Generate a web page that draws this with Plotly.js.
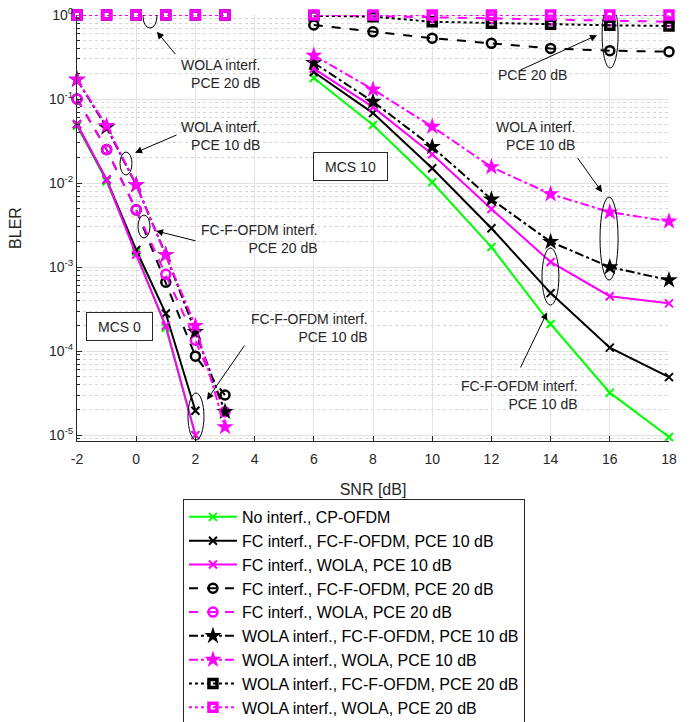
<!DOCTYPE html>
<html>
<head>
<meta charset="utf-8">
<script src="https://cdn.plot.ly/plotly-3.0.1.min.js"></script>
<style>html,body{margin:0;padding:0;background:#fff;}#chart{width:697px;height:722px;}</style>
</head>
<body>
<div id="chart"></div>
<script>
// ---- data ----
const snrMcs0 = [-2, -1, 0, 1, 2, 3];
const snrMcs10 = [6, 8, 10, 12, 14, 16, 18];

const seriesNames = [
  "No interf., CP-OFDM",
  "FC interf., FC-F-OFDM, PCE 10 dB",
  "FC interf., WOLA, PCE 10 dB",
  "FC interf., FC-F-OFDM, PCE 20 dB",
  "FC interf., WOLA, PCE 20 dB",
  "WOLA interf., FC-F-OFDM, PCE 10 dB",
  "WOLA interf., WOLA, PCE 10 dB",
  "WOLA interf., FC-F-OFDM, PCE 20 dB",
  "WOLA interf., WOLA, PCE 20 dB"
];

// MCS 0 (SNR -2 ... 3)
const noInterfMcs0   = [0.048, 0.0105, 0.0015, 0.00019, 0.00001];
const fcFofdm10Mcs0  = [0.05, 0.011, 0.0016, 0.00028, 0.0000195];
const fcWola10Mcs0   = [0.05, 0.011, 0.0014, 0.0002, 0.00001];
const fcFofdm20Mcs0  = [0.1, 0.025, 0.0048, 0.00066, 0.000087, 0.00003];
const fcWola20Mcs0   = [0.1, 0.025, 0.0048, 0.00082, 0.000135, 0.000019];
const woFofdm10Mcs0  = [0.17, 0.046, 0.0095, 0.0014, 0.00017, 0.000019];
const woWola10Mcs0   = [0.17, 0.048, 0.0095, 0.0014, 0.0002, 0.0000125];
const woFofdm20Mcs0  = [1, 1, 1, 1, 1, 1];
const woWola20Mcs0   = [1, 1, 1, 1, 1, 1];

// MCS 10 (SNR 6 ... 18)
const noInterfMcs10  = [0.178, 0.049, 0.0102, 0.00173, 0.00021, 0.000032, 0.0000095];
const fcFofdm10Mcs10 = [0.21, 0.068, 0.015, 0.0029, 0.00049, 0.00011, 0.000049];
const fcWola10Mcs10  = [0.23, 0.08, 0.022, 0.0049, 0.00115, 0.00045, 0.00037];
const fcFofdm20Mcs10 = [0.76, 0.63, 0.53, 0.46, 0.40, 0.376, 0.366];
const fcWola20Mcs10  = [1.0, 0.97, 0.93, 0.9, 0.87, 0.85, 0.83];
const woFofdm10Mcs10 = [0.27, 0.093, 0.027, 0.0064, 0.002, 0.001, 0.0007];
const woWola10Mcs10  = [0.33, 0.13, 0.047, 0.0155, 0.0074, 0.0045, 0.0035];
const woFofdm20Mcs10 = [0.98, 0.955, 0.83, 0.80, 0.775, 0.754, 0.74];
const woWola20Mcs10  = [1, 1, 1, 1, 1, 1, 1];

const xTicks = [-2, 0, 2, 4, 6, 8, 10, 12, 14, 16, 18];
const xTickText = ["-2", "0", "2", "4", "6", "8", "10", "12", "14", "16", "18"];
const yTickVals = [1e-5, 1e-4, 1e-3, 1e-2, 1e-1, 1];
const yTickText = ["10<sup>-5</sup>", "10<sup>-4</sup>", "10<sup>-3</sup>", "10<sup>-2</sup>", "10<sup>-1</sup>", "10<sup>0</sup>"];

// ---- styling ----
const GREEN = "#00ff00", MAG = "#ff00ff", BLK = "#000000";
const styles = [
  {color: GREEN, dash: "solid",   symbol: "x-thin-open", size: 8,  lw: 2},
  {color: BLK,   dash: "solid",   symbol: "x-thin-open", size: 8,  lw: 2},
  {color: MAG,   dash: "solid",   symbol: "x-thin-open", size: 8,  lw: 2},
  {color: BLK,   dash: "dash",    symbol: "circle-open", size: 9,  lw: 2.5},
  {color: MAG,   dash: "dash",    symbol: "circle-open", size: 9,  lw: 2.5},
  {color: BLK,   dash: "dashdot", symbol: "star",        size: 13, lw: 0},
  {color: MAG,   dash: "dashdot", symbol: "star",        size: 13, lw: 0},
  {color: BLK,   dash: "dot",     symbol: "square-open", size: 8,  lw: 3.5},
  {color: MAG,   dash: "dot",     symbol: "square-open", size: 8,  lw: 3.5}
];
const mcs0 = [noInterfMcs0, fcFofdm10Mcs0, fcWola10Mcs0, fcFofdm20Mcs0, fcWola20Mcs0, woFofdm10Mcs0, woWola10Mcs0, woFofdm20Mcs0, woWola20Mcs0];
const mcs10 = [noInterfMcs10, fcFofdm10Mcs10, fcWola10Mcs10, fcFofdm20Mcs10, fcWola20Mcs10, woFofdm10Mcs10, woWola10Mcs10, woFofdm20Mcs10, woWola20Mcs10];

const traces = [];
seriesNames.forEach((name, i) => {
  const s = styles[i];
  const x0 = snrMcs0.slice(0, mcs0[i].length);
  traces.push({
    type: "scatter", mode: "lines+markers", name: name,
    x: x0.concat([null], snrMcs10),
    y: mcs0[i].concat([null], mcs10[i]),
    connectgaps: false, cliponaxis: false,
    line: {color: s.color, width: 2, dash: s.dash},
    marker: {symbol: s.symbol, size: s.size, color: s.color,
             line: {color: s.color, width: s.lw}}
  });
});

const F = "Liberation Sans, Arial, sans-serif";
const TXT = "#262626";
const ann = [];
function label(text, x, ly) {
  ann.push({text: text, x: x, y: ly, xref: "x", yref: "y", showarrow: false,
    xanchor: "right", yanchor: "middle", align: "right",
    font: {family: F, size: 14, color: TXT}});
}
function arrow(x, ly, ax, ay) {
  ann.push({text: " ", x: x, y: ly, xref: "x", yref: "y", showarrow: true,
    ax: ax, ay: ay, arrowhead: 2, arrowsize: 1.4, arrowwidth: 1, arrowcolor: "#000",
    borderpad: 0, font: {size: 1}});
}
function box(text, x, ly, w, h) {
  ann.push({text: text, x: x, y: ly, xref: "x", yref: "y", showarrow: false,
    xanchor: "center", yanchor: "middle", width: w, height: h,
    bordercolor: TXT, borderwidth: 1, borderpad: 1, bgcolor: "#fff",
    font: {family: F, size: 14, color: TXT}});
}
label("WOLA interf.<br>PCE 20 dB", 4.25, -0.70);
label("WOLA interf.<br>PCE 10 dB", 4.25, -1.44);
label("FC-F-OFDM interf.<br>PCE 20 dB", 6.21, -2.67);
label("FC-F-OFDM interf.<br>PCE 10 dB", 7.90, -3.72);
label("PCE 20 dB", 14.62, -0.71);
label("WOLA interf.<br>PCE 10 dB", 14.89, -1.44);
label("FC-F-OFDM interf.<br>PCE 10 dB", 14.99, -4.52);
arrow(0.70, -0.20, 19, 23);
arrow(-0.04, -1.64, 42, -18);
arrow(0.67, -2.57, 40, 10);
arrow(2.39, -4.58, 38, -55);
arrow(15.57, -0.24, -77, 35);
arrow(15.74, -2.11, -25, -35);
arrow(13.88, -3.54, -27, 56);
box("MCS 0", -0.56, -3.71, 63, 25);
box("MCS 10", 7.24, -1.80, 71, 25);

const ell = (x0, x1, y0, y1) => ({type: "circle", xref: "x", yref: "y",
  x0: x0, x1: x1, y0: y0, y1: y1, line: {color: "#000", width: 1}});
const shapes = [
  ell(0.23, 0.70, 0.70, 1.315),
  ell(-0.547, -0.142, 0.01247, 0.0234),
  ell(0.061, 0.466, 0.00222, 0.00417),
  ell(1.75, 2.29, 0.00000875, 0.0000317),
  ell(15.74, 16.28, 0.234, 1.43),
  ell(15.67, 16.28, 0.0007, 0.00682),
  ell(13.71, 14.28, 0.000353, 0.001686)
];

const layout = {
  width: 697, height: 722,
  margin: {l: 77, r: 28, t: 15, b: 281},
  paper_bgcolor: "#fff", plot_bgcolor: "#fff",
  font: {family: F, color: TXT, size: 14},
  showlegend: true,
  legend: {xref: "paper", yref: "container", x: 0.179, y: 0.3089,
    xanchor: "left", yanchor: "top", itemwidth: 48,
    bordercolor: TXT, borderwidth: 1, bgcolor: "#fff",
    font: {family: F, size: 16, color: "#000"}, tracegroupgap: 0},
  xaxis: {range: [-2, 18], tickvals: xTicks, ticktext: xTickText, ticks: "inside", ticklen: 5,
    tickcolor: TXT, showline: true, linecolor: TXT, linewidth: 1, mirror: false,
    showgrid: true, gridcolor: "#e3e3e3", zeroline: false, ticklabelstandoff: 5,
    tickfont: {family: F, size: 14, color: TXT},
    title: {text: "SNR [dB]", font: {family: F, size: 16, color: TXT}, standoff: 18}},
  yaxis: {type: "log", range: [-5.07, 0], tickvals: yTickVals, ticktext: yTickText,
    ticks: "inside", ticklen: 5, tickcolor: TXT, showline: true, linecolor: TXT,
    linewidth: 1, showgrid: true, gridcolor: "#e3e3e3", zeroline: false,
    tickfont: {family: F, size: 14, color: TXT},
    minor: {dtick: "D1", showgrid: true, gridcolor: "#d6d6d6", griddash: "dot",
      ticks: "inside", ticklen: 3, tickcolor: TXT},
    title: {text: "BLER", font: {family: F, size: 16, color: TXT}, standoff: 23}},
  annotations: ann,
  shapes: shapes
};

Plotly.newPlot("chart", traces, layout, {displayModeBar: false, staticPlot: true});
</script>
</body>
</html>
